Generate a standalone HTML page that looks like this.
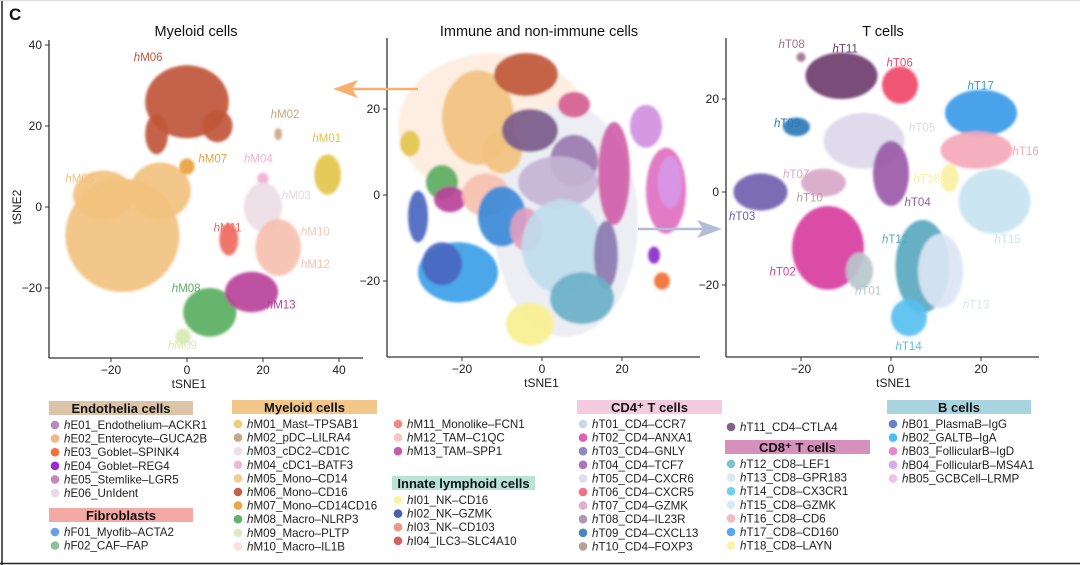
<!DOCTYPE html>
<html><head><meta charset="utf-8">
<style>
html,body{margin:0;padding:0;background:#fff;}
svg{display:block;font-family:"Liberation Sans",sans-serif;}
</style></head>
<body>
<svg id="fig" width="1080" height="565" viewBox="0 0 1080 565" xmlns="http://www.w3.org/2000/svg">
<defs>
<filter id="soft" x="-20%" y="-20%" width="140%" height="140%"><feGaussianBlur stdDeviation="1.4"/></filter>
</defs>
<rect x="0" y="0" width="1080" height="565" fill="#fff"/>
<line x1="2" y1="0" x2="2" y2="565" stroke="#222" stroke-width="1.5"/>
<line x1="0" y1="563.5" x2="1080" y2="563.5" stroke="#222" stroke-width="1.5"/>
<line x1="0" y1="0.5" x2="1080" y2="0.5" stroke="#ddd" stroke-width="1"/>
<text x="9" y="20" font-size="17" font-weight="bold" fill="#111">C</text>
<g id="plots"></g>
<g id="legend"></g>
</svg>
<script>
// ---------- data ----------
// clusters: [label, x, y, rx, ry, color]
const myeloidClusters = [
 ["hM05",-17,-7,15,14,"#f2c27f"],["hM05b",-7,4,8,7,"#f2c27f"],["hM05c",-22,3,8,6,"#f2c27f"],
 ["hM06",0,26,11,9,"#c0573a"],["hM06b",-8,18,3,5,"#c0573a"],["hM06c",8,20,4,4,"#c0573a"],
 ["hM07",0,10,2,2,"#e8a23a"],["hM01",37,8,3.5,5,"#e3c54a"],
 ["hM02",24,18,1,1.5,"#c9a882"],["hM04",20,7,1.5,1.5,"#f0b0d0"],
 ["hM03",20,0,5,6,"#ecdde5"],["hM10",24,-10,6,7,"#f6c0b0"],
 ["hM11",11,-8,2.5,4,"#ef6a5e"],["hM08",6,-26,7,6,"#5aae5e"],
 ["hM13",17,-21,7,5,"#b8439a"],["hM09",-1,-32,2,2,"#d8e8b0"]
];
const myeloidLabels = [["M06",-14,36,"#c0573a"],["M02",22,22,"#c9a882"],["M01",33,16,"#e3c54a"],
 ["M07",3,11,"#e8a23a"],["M04",15,11,"#f0b0d0"],["M03",25,2,"#e8d8e0"],["M05",-32,6,"#f2c27f"],
 ["M11",7,-6,"#ef6a5e"],["M10",30,-7,"#f6c8b8"],["M12",30,-15,"#f6c0b0"],
 ["M08",-4,-21,"#5aae5e"],["M13",21,-25,"#b8439a"],["M09",-5,-35,"#d8e8b0"]];

const allClusters = [
 ["halo-myeloid",-12,16,24,17,"#fdeee1"],["halo-t",6,-6,18,27,"#eceef4"],
 ["myeloid-mono",-16,18,9,11,"#f2c27f"],["myeloid-mono2",-10,10,5,5,"#f2c27f"],["myeloid-cd16",-4,28,8,5,"#c0573a"],
 ["mast",-33,12,2.5,3,"#e3c54a"],["macro-nlrp3",-25,3,4,4,"#5aae5e"],
 ["tam-spp1",-23,-1,4,3,"#b8439a"],["tam-c1qc",-14,0,6,5,"#f6c0b0"],
 ["nk-gzmk",-31,-5,2.5,6,"#4a66c0"],["b-galt",-21,-18,10,7,"#3aa0e8"],
 ["b-plasma",-25,-16,5,5,"#4a66c0"],["nk-cd16",-3,-30,6,5,"#f8f090"],
 ["t-ctla4",-3,15,7,5,"#7a5a8a"],["t-cxcr5",8,21,4,3,"#d66090"],["t-cxcl",8,8,6,6,"#9a7ab0"],
 ["t-mix",4,3,10,6,"#c4b4d4"],["t-anxa1",18,5,4,12,"#d060a8"],["t-cd160",-10,-5,6,7,"#3a8ad8"],
 ["t-pink",-4,-8,4,5,"#e0a0c0"],
 ["t-ccr7",5,-12,10,11,"#bfdcec"],["t-gnly",16,-14,3,8,"#8a78b0"],["t-lef1",10,-24,8,6,"#6ab0c8"],
 ["b-ms4a1",26,16,4,5,"#d090e0"],["b-igd",31,1,5,10,"#e070c0"],["b-lrmp",32,3,3,6,"#d898e8"],
 ["ep-reg4",28,-14,1.5,2,"#8a2ac8"],["ep-spink4",30,-20,2,2,"#f07030"]
];

const tClusters = [
 ["hT11",-11,25,8,5,"#6e3e6e"],["hT06",2,23,4,4,"#f04868"],["hT08",-20,29,1,1,"#a07090"],
 ["hT09",-21,14,3,2,"#2e7ab8"],["hT05",-6,11,9,6,"#dcd8ec"],["hT04",0,4,4,7,"#9a5aa8"],
 ["hT07",-15,2,5,3,"#d8a8c8"],["hT03",-29,0,6,4,"#7060b0"],["hT02",-14,-12,8,9,"#d83ea0"],
 ["hT01",-7,-17,3,4,"#b8c8cc"],["hT17",20,17,8,5,"#3a9ae8"],["hT16",19,9,8,4,"#f4a8b8"],
 ["hT18",13,3,2,3,"#f8f0a0"],["hT15",23,-2,8,7,"#c8e4f0"],["hT12",7,-16,6,10,"#5aa8c0"],
 ["hT13",11,-17,5,8,"#dbe6f4"],["hT14",4,-27,4,4,"#58c0f0"]
];
const tLabels = [["T08",-25,31,"#a07090"],["T11",-13,30,"#6e3e6e"],["T06",-1,27,"#f04868"],
 ["T09",-26,14,"#2e7ab8"],["T05",4,13,"#dcd8ec"],["T17",17,22,"#3a9ae8"],["T16",27,8,"#f4a8b8"],
 ["T18",5,2,"#f8f0a0"],["T07",-24,3,"#d8a8c8"],["T10",-21,-2,"#b8a090"],["T04",3,-3,"#9a5aa8"],
 ["T03",-36,-6,"#7060b0"],["T12",-2,-11,"#5aa8c0"],["T15",23,-11,"#c8e4f0"],["T02",-27,-18,"#d83ea0"],
 ["T01",-8,-22,"#b8c8cc"],["T13",16,-25,"#dbe6f4"],["T14",1,-34,"#58c0f0"]];

const xTicksLeft=[-20,0,20,40], yTicksLeft=[-20,0,20,40];
const xTicksMid=[-20,0,20], yTicksMid=[-20,0,20];
const xTicksRight=[-20,0,20], yTicksRight=[-20,0,20];

// legend data
const legendGroups = [
 {title:"Endothelia cells",color:"#dcc4a8",x:49,y:401,w:144,items:[["E01_Endothelium\u2013ACKR1","#b48ac0"],["E02_Enterocyte\u2013GUCA2B","#f0b888"],["E03_Goblet\u2013SPINK4","#f07040"],["E04_Goblet\u2013REG4","#9a2ad0"],["E05_Stemlike\u2013LGR5","#c888b8"],["E06_UnIdent","#e8d8e8"]]},
 {title:"Fibroblasts",color:"#f4aaa4",x:49,y:508,w:144,items:[["F01_Myofib\u2013ACTA2","#6aa0e8"],["F02_CAF\u2013FAP","#90c098"]]},
 {title:"Myeloid cells",color:"#f2c88a",x:232,y:400,w:145,items:[["M01_Mast\u2013TPSAB1","#e8d070"],["M02_pDC\u2013LILRA4","#c8a88a"],["M03_cDC2\u2013CD1C","#ece0e8"],["M04_cDC1\u2013BATF3","#f0b8d8"],["M05_Mono\u2013CD14","#f4cc90"],["M06_Mono\u2013CD16","#c86048"],["M07_Mono\u2013CD14CD16","#e8a848"],["M08_Macro\u2013NLRP3","#60b070"],["M09_Macro\u2013PLTP","#dcecc0"],["M10_Macro\u2013IL1B","#f8e0dc"]]},
 {title:null,x:392,y:410,w:0,items:[["M11_Monolike\u2013FCN1","#f08880"],["M12_TAM\u2013C1QC","#f8c8bc"],["M13_TAM\u2013SPP1","#c060a8"]]},
 {title:"Innate lymphoid cells",color:"#b8e4d8",x:392,y:476,w:143,items:[["I01_NK\u2013CD16","#faf4a0"],["I02_NK\u2013GZMK","#4860b0"],["I03_NK\u2013CD103","#e89888"],["I04_ILC3\u2013SLC4A10","#d86060"]]},
 {title:"CD4\u207a T cells",color:"#f4cce0",x:577,y:400,w:145,items:[["T01_CD4\u2013CCR7","#c8dce0"],["T02_CD4\u2013ANXA1","#e060b0"],["T03_CD4\u2013GNLY","#9088c0"],["T04_CD4\u2013TCF7","#a878b8"],["T05_CD4\u2013CXCR6","#e0dcf0"],["T06_CD4\u2013CXCR5","#f07088"],["T07_CD4\u2013GZMK","#e0b0d0"],["T08_CD4\u2013IL23R","#b098b0"],["T09_CD4\u2013CXCL13","#4888c0"],["T10_CD4\u2013FOXP3","#b8a098"]]},
 {title:null,x:725,y:413,w:0,items:[["T11_CD4\u2013CTLA4","#806088"]]},
 {title:"CD8\u207a T cells",color:"#d690bc",x:725,y:440,w:145,items:[["T12_CD8\u2013LEF1","#80c0d0"],["T13_CD8\u2013GPR183","#dce8f4"],["T14_CD8\u2013CX3CR1","#70d0f4"],["T15_CD8\u2013GZMK","#d4ecf4"],["T16_CD8\u2013CD6","#f4b8c4"],["T17_CD8\u2013CD160","#58a8f0"],["T18_CD8\u2013LAYN","#faf4a8"]]},
 {title:"B cells",color:"#a8d4e0",x:887,y:400,w:144,items:[["B01_PlasmaB\u2013IgG","#6880d0"],["B02_GALTB\u2013IgA","#48c0f4"],["B03_FollicularB\u2013IgD","#e888c8"],["B04_FollicularB\u2013MS4A1","#d8a8f0"],["B05_GCBCell\u2013LRMP","#f0c0e8"]]}
];

// ---------- drawing ----------
const NS="http://www.w3.org/2000/svg";
const plotsG=document.getElementById('plots');
function mk(tag,attrs,parent){const e=document.createElementNS(NS,tag);for(const k in attrs)e.setAttribute(k,attrs[k]);(parent||plotsG).appendChild(e);return e;}
function linScale(d0,d1,r0,r1){return v=>r0+(v-d0)*(r1-r0)/(d1-d0);}

function drawPlot(cfg){
 const g=mk('g',{});
 
 
 const sx=cfg.sx, sy=cfg.sy;
 const kx=Math.abs(sx(1)-sx(0)), ky=Math.abs(sy(1)-sy(0));
 const cg=mk('g',{filter:'url(#soft)'},g);
 cfg.clusters.forEach(c=>{
  const isHalo=c[0].startsWith('halo');
  const e=mk('ellipse',{cx:sx(c[1]),cy:sy(c[2]),rx:c[3]*kx,ry:c[4]*ky,fill:c[5],opacity:isHalo?1:0.92},cg);
  
  
 });
 (cfg.labels||[]).forEach(l=>{
  const t=mk('text',{x:sx(l[1]),y:sy(l[2]),'font-size':11.5,fill:l[3]},g);
  
  
  const a=mk('tspan',{'font-style':'italic'},t);a.textContent='h';
  const b=mk('tspan',{},t);b.textContent=l[0];
 });
 const ax=mk('line',{x1:cfg.ax0,y1:cfg.axY,x2:cfg.ax1,y2:cfg.axY,stroke:'#333','stroke-width':1.3},g);
 
 const ay=mk('line',{x1:cfg.ax0,y1:cfg.ay0,x2:cfg.ax0,y2:cfg.axY,stroke:'#333','stroke-width':1.3},g);
 
 cfg.xt.forEach(v=>{
  mk('line',{x1:sx(v),x2:sx(v),y1:cfg.axY,y2:cfg.axY+4,stroke:'#333'},g);
  const t=mk('text',{x:sx(v),y:cfg.axY+16,'font-size':12,'text-anchor':'middle',fill:'#222'},g);
  
  t.textContent=v<0?'\u2212'+(-v):v;
 });
 cfg.yt.forEach(v=>{
  mk('line',{x1:cfg.ax0-4,x2:cfg.ax0,y1:sy(v),y2:sy(v),stroke:'#333'},g);
  const t=mk('text',{x:cfg.ax0-7,y:sy(v)+4,'font-size':12,'text-anchor':'end',fill:'#222'},g);
  
  t.textContent=v<0?'\u2212'+(-v):v;
 });
 const xl=mk('text',{x:(cfg.ax0+cfg.ax1)/2+cfg.xlOff,y:cfg.axY+30,'font-size':12,'text-anchor':'middle',fill:'#222'},g);
 xl.textContent='tSNE1';
 if(cfg.ylab){
  const yl=mk('text',{x:0,y:0,'font-size':12,'text-anchor':'middle',fill:'#222',transform:`translate(21,${sy(0)}) rotate(-90)`},g);
  yl.textContent='tSNE2';
 }
 const ti=mk('text',{x:cfg.titleX,y:36,'font-size':14.5,'text-anchor':'middle',fill:'#111'},g);
 ti.textContent=cfg.title;
}

drawPlot({name:'myeloid-plot',title:'Myeloid cells',titleX:196,clusters:myeloidClusters,labels:myeloidLabels,
 sx:linScale(0,20,187,263),sy:linScale(0,20,207,126),ax0:49,ax1:363,ay0:40,axY:358,xt:xTicksLeft,yt:yTicksLeft,ylab:true,xlOff:-17});
drawPlot({name:'all-cells-plot',title:'Immune and non-immune cells',titleX:539,clusters:allClusters,labels:[],
 sx:linScale(0,20,542,622),sy:linScale(0,20,195,109),ax0:387,ax1:700,ay0:38,axY:357,xt:xTicksMid,yt:yTicksMid,ylab:false,xlOff:-2});
drawPlot({name:'t-cells-plot',title:'T cells',titleX:883,clusters:tClusters,labels:tLabels,
 sx:linScale(0,20,891,981),sy:linScale(0,20,192,99),ax0:726,ax1:1039,ay0:38,axY:357,xt:xTicksRight,yt:yTicksRight,ylab:false,xlOff:11});

const a1=mk('g',{});
mk('line',{x1:418,y1:89,x2:345,y2:89,stroke:'#f7b06e','stroke-width':2.5},a1);
mk('polygon',{points:'333,89 358,80 352,89 358,98',fill:'#f7b06e'},a1);
const a2=mk('g',{});
mk('line',{x1:638,y1:229,x2:710,y2:229,stroke:'#b4bcd8','stroke-width':2.5},a2);
mk('polygon',{points:'722,229 697,220 703,229 697,238',fill:'#b4bcd8'},a2);

const lg=document.getElementById('legend');
legendGroups.forEach(gr=>{
 const g=mk('g',{},lg);
 
 
 let y0=gr.y;
 if(gr.title){
  const r=mk('rect',{x:gr.x,y:gr.y,width:gr.w,height:14,fill:gr.color},g);
  
  const t=mk('text',{x:gr.x+gr.w/2,y:gr.y+12,'font-size':13,'font-weight':'bold','text-anchor':'middle',fill:'#111'},g);
  t.textContent=gr.title;
  y0=gr.y+24;
 } else y0=gr.y+14;
 gr.items.forEach((it,i)=>{
  const y=y0+i*13.6;
  const c=mk('circle',{cx:gr.x+6,cy:y,r:4.3,fill:it[1]},g);
  
  const t=mk('text',{x:gr.x+15,y:y+4,'font-size':11.6,fill:'#222'},g);
  
  const a=mk('tspan',{'font-style':'italic'},t);a.textContent='h';
  const b=mk('tspan',{},t);b.textContent=it[0];
 });
});
</script>
</body></html>
